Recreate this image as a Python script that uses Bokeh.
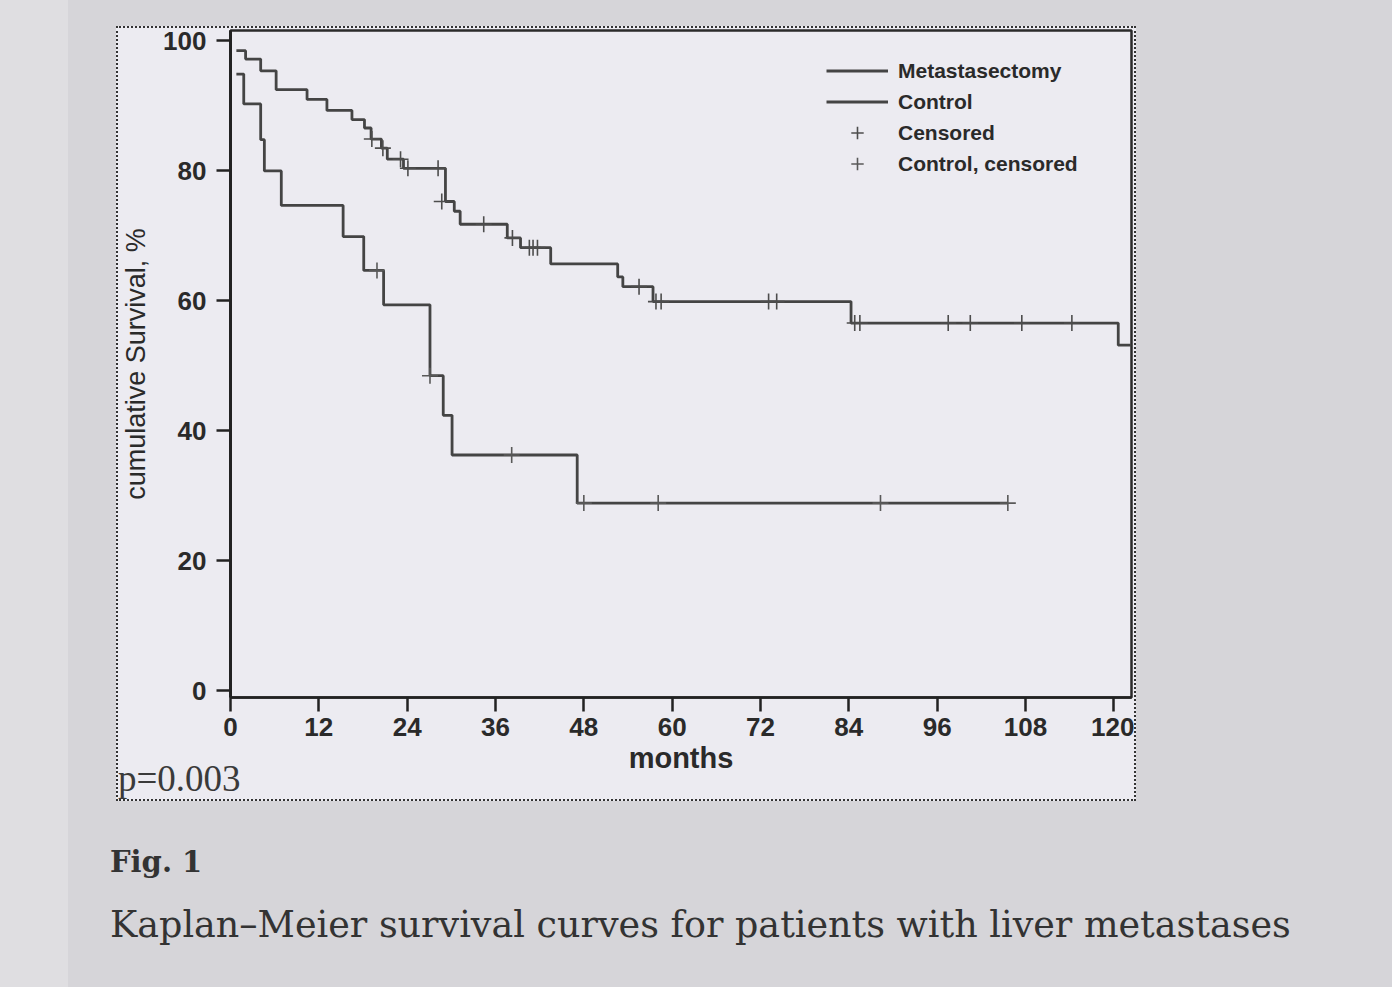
import numpy as np
from bokeh.plotting import figure
from bokeh.layouts import column
from bokeh.models import Legend, LegendItem, FixedTicker, Range1d, Div
from bokeh.embed import file_html
from bokeh.resources import INLINE

# ---------------- data ----------------
# Metastasectomy: step start times (months) and survival (%) after each step
met_t = [0.8, 2.05, 4.1, 6.2, 10.4, 13.1, 16.5, 18.2, 19.1, 20.5, 21.3, 23.5,
         29.2, 30.4, 31.2, 37.6, 39.4, 43.5, 52.6, 53.3, 57.4, 84.3, 120.6]
met_s = [98.5, 97.2, 95.4, 92.5, 91.0, 89.3, 87.9, 86.6, 84.9, 83.5, 81.8, 80.4,
         75.3, 73.8, 71.8, 69.7, 68.2, 65.7, 63.7, 62.2, 59.9, 56.6, 53.2]
met_end = 122.4
met_cens_t = [19.2, 20.7, 23.1, 24.1, 28.2, 28.7, 34.4, 38.3, 40.6, 41.1, 41.7,
              55.5, 57.8, 58.5, 73.1, 74.2, 84.8, 85.5, 97.5, 100.5, 107.5, 114.3]
met_cens_s = [84.9, 83.5, 81.8, 80.4, 80.4, 75.3, 71.8, 69.7, 68.2, 68.2, 68.2,
              62.2, 59.9, 59.9, 59.9, 59.9, 56.6, 56.6, 56.6, 56.6, 56.6, 56.6]

# Control
ctrl_t = [0.8, 1.8, 4.1, 4.6, 6.9, 15.3, 18.1, 20.8, 27.1, 28.9, 30.1, 47.1]
ctrl_s = [94.9, 90.3, 84.8, 80.0, 74.7, 69.9, 64.7, 59.4, 48.5, 42.4, 36.3, 28.9]
ctrl_end = 105.6
ctrl_cens_t = [19.9, 27.1, 38.2, 48.0, 58.1, 88.3, 105.6]
ctrl_cens_s = [64.7, 48.5, 36.3, 28.9, 28.9, 28.9, 28.9]

x_ticks = [0, 12, 24, 36, 48, 60, 72, 84, 96, 108, 120]
y_ticks = [0, 20, 40, 60, 80, 100]

legend_labels = ["Metastasectomy", "Control", "Censored", "Control, censored"]
x_label = "months"
y_label = "cumulative Survival, %"
p_text = "p=0.003"
fig_text = "Fig. 1"
caption = "Kaplan\u2013Meier survival curves for patients with liver metastases"

# ---------------- layout constants ----------------
PAGE_W, PAGE_H = 1392, 987
X0, X1 = 0, 122.4
Y0, Y1 = -1, 101.6
FIG_W, FIG_H = 1016, 768
B_LEFT, B_TOP, B_RIGHT = 110, 14, 3
FRAME_H = 667

OUTER_BG = "#d6d5d9"
STRIP_BG = "#dfdee1"
PANEL_BG = "#ecebf1"
LINE_C = "#444444"
TXT_C = "#2a2a2a"

p = figure(width=FIG_W, height=FIG_H, output_backend="svg",
           toolbar_location=None,
           x_range=Range1d(X0, X1), y_range=Range1d(Y0, Y1),
           min_border_left=B_LEFT, min_border_top=B_TOP,
           min_border_right=B_RIGHT,
           min_border_bottom=FIG_H - B_TOP - FRAME_H,
           background_fill_color=PANEL_BG, border_fill_alpha=0,
           margin=(-12, 0, 0, 0))
p.grid.visible = False
p.outline_line_color = "#2a2a2a"
p.outline_line_width = 2.5

# curves
mx = list(met_t) + [met_end]
my = list(met_s) + [met_s[-1]]
cx = list(ctrl_t) + [ctrl_end]
cy = list(ctrl_s) + [ctrl_s[-1]]

r_met = p.step(mx, my, mode="after", line_color=LINE_C, line_width=2.8)
r_ctrl = p.step(cx, cy, mode="after", line_color=LINE_C, line_width=2.8)
r_mc = p.scatter(met_cens_t, met_cens_s, marker="cross", size=16,
                 line_color="#4d4d4d", line_width=1.6)
r_cc = p.scatter(ctrl_cens_t, ctrl_cens_s, marker="cross", size=16,
                 line_color="#595959", line_width=1.6)

# axes
for ax in (p.xaxis[0], p.yaxis[0]):
    ax.axis_line_color = "#222222"
    ax.major_tick_line_color = "#222222"
    ax.major_tick_line_width = 2.5
    ax.minor_tick_line_color = None
    ax.major_tick_out = 14
    ax.major_tick_in = 0
    ax.major_label_text_font = "Liberation Sans"
    ax.major_label_text_font_style = "bold"
    ax.major_label_text_font_size = "26px"
    ax.major_label_text_color = TXT_C
    ax.axis_label_text_font = "Liberation Sans"
    ax.axis_label_text_color = TXT_C

p.xaxis[0].ticker = FixedTicker(ticks=x_ticks)
p.yaxis[0].ticker = FixedTicker(ticks=y_ticks)
p.xaxis[0].axis_line_width = 2.5
p.yaxis[0].axis_line_width = 3
p.xaxis[0].major_label_standoff = 6
p.yaxis[0].major_label_standoff = 10
p.xaxis[0].axis_label = x_label
p.xaxis[0].axis_label_text_font_size = "29px"
p.xaxis[0].axis_label_text_font_style = "bold"
p.xaxis[0].axis_label_standoff = 3
p.yaxis[0].axis_label = y_label
p.yaxis[0].axis_label_text_font_size = "27px"
p.yaxis[0].axis_label_text_font_style = "normal"
p.yaxis[0].axis_label_standoff = 9

# legend
legend = Legend(items=[
    LegendItem(label=legend_labels[0], renderers=[r_met]),
    LegendItem(label=legend_labels[1], renderers=[r_ctrl]),
    LegendItem(label=legend_labels[2], renderers=[r_mc]),
    LegendItem(label=legend_labels[3], renderers=[r_cc]),
], location="top_right")
legend.margin = 20
legend.padding = 5
legend.spacing = 0
legend.glyph_width = 62
legend.glyph_height = 31
legend.label_height = 25
legend.label_width = 208
legend.label_standoff = 10
legend.label_text_font = "Liberation Sans"
legend.label_text_font_style = "bold"
legend.label_text_font_size = "21px"
legend.label_text_color = TXT_C
legend.border_line_alpha = 0
legend.background_fill_alpha = 0
p.add_layout(legend)

# p-value below the axes, inside the dotted panel
p_div = Div(text=p_text, width=300, height=40, margin=(-25, 0, 0, 0),
            styles={"font-family": "'Liberation Serif', serif",
                    "font-size": "37px", "line-height": "40px",
                    "color": "#3a3a3a", "white-space": "nowrap"})

panel = column(p, p_div, margin=(26, 0, 0, 116), spacing=0,
               styles={"border": "2px dotted #333333",
                       "background-color": PANEL_BG})

fig_div = Div(text=fig_text, width=400, height=34, margin=(44, 0, 0, 110),
              styles={"font-family": "'DejaVu Serif', serif",
                      "font-weight": "bold", "font-size": "29px",
                      "line-height": "34px", "color": "#333333",
                      "white-space": "nowrap"})
cap_div = Div(text=caption, width=1270, height=42, margin=(25, 0, 0, 110),
              styles={"font-family": "'DejaVu Serif', serif",
                      "font-size": "36.5px", "line-height": "42px",
                      "color": "#333333", "white-space": "nowrap"})

root = column(panel, fig_div, cap_div, width=PAGE_W, height=PAGE_H,
              spacing=0,
              styles={"background": "linear-gradient(to right, %s 0px, %s 68px, "
                                    "%s 68px, %s 100%%)"
                                    % (STRIP_BG, STRIP_BG, OUTER_BG, OUTER_BG)})

open("out.html", "w").write(file_html(root, INLINE))
